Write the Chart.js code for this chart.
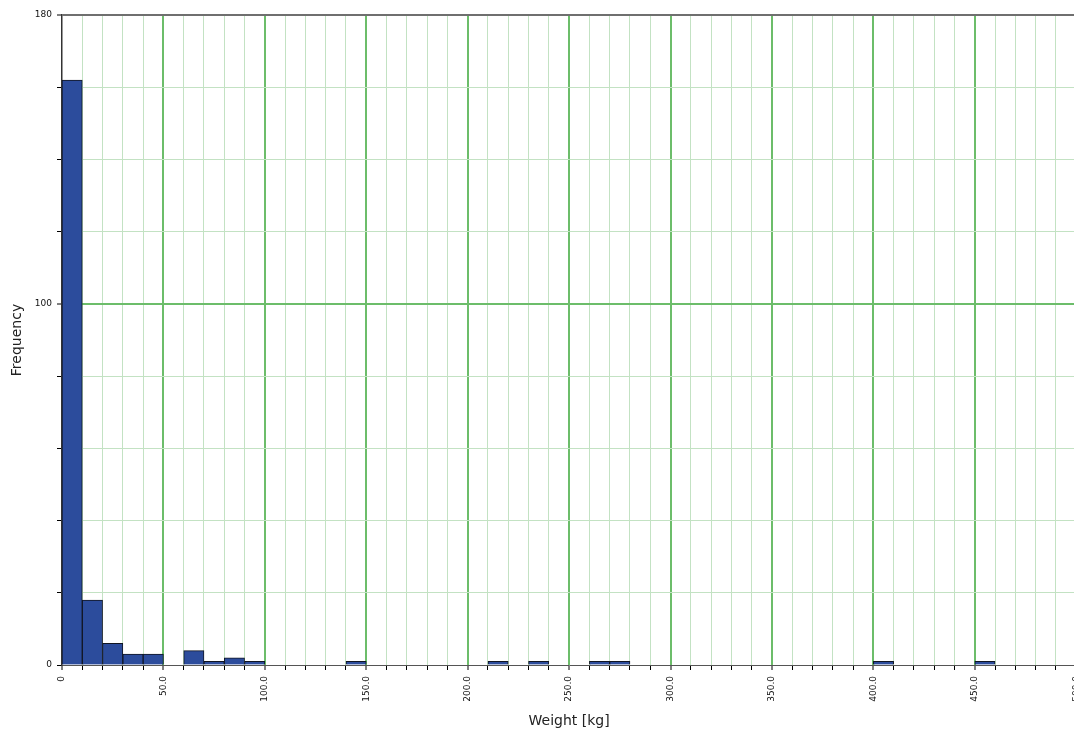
<!DOCTYPE html>
<html>
<head>
<meta charset="utf-8">
<title>Weight histogram</title>
<script src="https://cdn.jsdelivr.net/npm/chart.js@4/dist/chart.umd.min.js"></script>
<style>
  html, body { margin: 0; padding: 0; background: #fff; overflow: hidden; }
  #wrap { width: 1074px; height: 734px; overflow: hidden; position: relative; }
  canvas { display: block; }
</style>
</head>
<body>
<div id="wrap"><canvas id="chart" width="1093" height="734"></canvas></div>
<script>
// Histogram bins (kg): lower edge of each non-empty bin and its count
const binWidth = 10;
const binStarts = [0, 10, 20, 30, 40, 60, 70, 80, 90, 140, 210, 230, 260, 270, 400, 450];
const counts    = [162, 18, 6, 3, 3, 4, 1, 2, 1, 1, 1, 1, 1, 1, 1, 1];

// Axis ranges and labelled tick values
const xRange = [0, 500];
const xLabelEvery = 50;
const yRange = [0, 180];
const yLabelled = [0, 100, 180];

const FONT = '"DejaVu Sans", Verdana, sans-serif';
const MAJOR_GRID = '#6cbd6a';
const MINOR_GRID = '#c3e2c3';

const points = binStarts.map((s, i) => ({ x: s + binWidth / 2, y: counts[i] }));

const tickVal = ctx => (ctx && ctx.tick ? ctx.tick.value : null);

new Chart(document.getElementById('chart'), {
  type: 'bar',
  data: {
    datasets: [{
      label: 'Frequency',
      data: points,
      backgroundColor: '#2c4c9c',
      borderColor: '#111522',
      borderWidth: 1,
      borderSkipped: 'bottom',
      barPercentage: 1.0,
      categoryPercentage: 1.0
    }]
  },
  options: {
    responsive: false,
    animation: false,
    layout: { padding: { top: 15, right: 6, bottom: 0, left: 0 } },
    plugins: {
      legend: { display: false },
      tooltip: { enabled: false }
    },
    scales: {
      x: {
        type: 'linear',
        min: xRange[0],
        max: xRange[1],
        offset: false,
        afterFit(scale) { scale.height = 69; },
        border: { display: true, color: '#555', width: 1 },
        grid: {
          offset: false,
          color: ctx => {
            const v = tickVal(ctx);
            if (v === null) return MINOR_GRID;
            if (v === 0) return 'rgba(0,0,0,0)';
            return v % xLabelEvery === 0 ? MAJOR_GRID : MINOR_GRID;
          },
          lineWidth: ctx => {
            const v = tickVal(ctx);
            return v !== null && v % xLabelEvery === 0 ? 2 : 1;
          },
          tickColor: '#000',
          tickLength: 5,
          tickWidth: 1
        },
        ticks: {
          stepSize: 10,
          autoSkip: false,
          minRotation: 90,
          maxRotation: 90,
          padding: 6,
          color: '#111',
          font: { family: FONT, size: 9 },
          callback: v => (v === 0 ? '0' : (v % xLabelEvery === 0 ? v.toFixed(1) : ''))
        },
        title: {
          display: true,
          text: 'Weight [kg]',
          color: '#222',
          font: { family: FONT, size: 14 },
          padding: { top: 0, bottom: 4 }
        }
      },
      y: {
        min: yRange[0],
        max: yRange[1],
        afterFit(scale) { scale.width = 62; },
        border: { display: true, color: '#333', width: 1.5 },
        grid: {
          color: ctx => {
            const v = tickVal(ctx);
            if (v === null) return MINOR_GRID;
            if (v === yRange[0]) return 'rgba(0,0,0,0)';
            if (v === yRange[1]) return '#6f6f6f';
            return v === 100 ? MAJOR_GRID : MINOR_GRID;
          },
          lineWidth: ctx => {
            const v = tickVal(ctx);
            return v === 100 || v === yRange[1] ? 2 : 1;
          },
          tickColor: '#000',
          tickLength: 5,
          tickWidth: 1
        },
        ticks: {
          stepSize: 20,
          autoSkip: false,
          padding: 5,
          color: '#111',
          font: { family: FONT, size: 9 },
          callback: v => (yLabelled.includes(v) ? String(v) : '')
        },
        title: {
          display: true,
          text: 'Frequency',
          color: '#222',
          font: { family: FONT, size: 14 },
          padding: { top: 9, bottom: 0 }
        }
      }
    }
  }
});
</script>
</body>
</html>
